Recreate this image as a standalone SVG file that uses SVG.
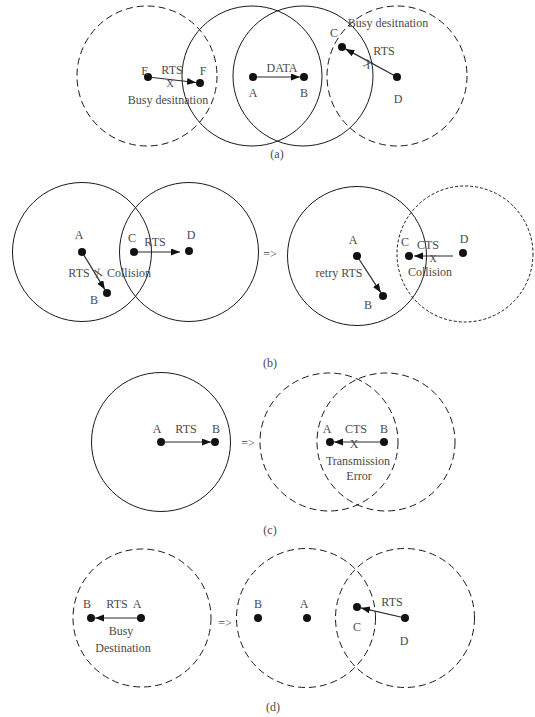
<svg xmlns="http://www.w3.org/2000/svg" width="535" height="717" viewBox="0 0 535 717">
<style>
.bg{fill:#fff}
.rng{fill:none;stroke:#1a1a1a;stroke-width:1}
.dsh{stroke-dasharray:7 4}
.dot{stroke-dasharray:3 2}
.n{fill:#111}
.t{font-family:"Liberation Serif","Times New Roman",serif;font-size:12px;fill:#4a4a4a;text-anchor:middle}
.x{font-size:10px}
.e{stroke:#2a2a2a;stroke-width:1.2;fill:none}
</style>
<defs>
<marker id="ah" markerUnits="userSpaceOnUse" markerWidth="10" markerHeight="8" refX="9" refY="3.5" orient="auto">
<path d="M0,0 L9,3.5 L0,7 z" fill="#111"/>
</marker>
</defs>
<rect class="bg" x="0" y="0" width="535" height="717"/>

<!-- ranges -->
<g id="ranges">
<circle class="rng dsh" cx="147" cy="76" r="70"/>
<circle class="rng" cx="252" cy="76" r="70"/>
<circle class="rng" cx="303" cy="76" r="70"/>
<circle class="rng dsh" cx="397" cy="76" r="70"/>

<circle class="rng" cx="82" cy="252" r="69.5"/>
<circle class="rng" cx="189" cy="252" r="69.5"/>
<circle class="rng" cx="357" cy="256" r="69.5"/>
<circle class="rng dot" cx="465" cy="254" r="68"/>

<circle class="rng" cx="161" cy="442" r="69.5"/>
<circle class="rng dsh" cx="329" cy="442" r="69"/>
<circle class="rng dsh" cx="386" cy="442" r="69"/>

<circle class="rng dsh" cx="142" cy="618" r="69"/>
<circle class="rng dsh" cx="306" cy="618" r="69.5"/>
<circle class="rng dsh" cx="405" cy="618" r="69.5"/>
</g>

<!-- connectors -->
<g id="connectors">
<line class="e" x1="148" y1="77" x2="196" y2="82.5" marker-end="url(#ah)"/>
<line class="e" x1="253" y1="77" x2="300" y2="77" marker-end="url(#ah)"/>
<line class="e" x1="397" y1="77" x2="345.5" y2="48.9" marker-end="url(#ah)"/>

<line class="e" x1="82" y1="252" x2="104.9" y2="289.6" marker-end="url(#ah)"/>
<line class="e" x1="134" y1="252" x2="180" y2="252" marker-end="url(#ah)"/>
<line class="e" x1="357" y1="256" x2="380.8" y2="292.6" marker-end="url(#ah)"/>
<line class="e" x1="453" y1="256" x2="414" y2="256" marker-end="url(#ah)"/>

<line class="e" x1="161" y1="442" x2="211" y2="442" marker-end="url(#ah)"/>
<line class="e" x1="384" y1="442" x2="334" y2="442" marker-end="url(#ah)"/>

<line class="e" x1="141" y1="618" x2="95" y2="618" marker-end="url(#ah)"/>
<line class="e" x1="405" y1="618" x2="360.9" y2="607.9" marker-end="url(#ah)"/>
</g>

<!-- panel (a) -->
<g id="a-E"><circle class="n" cx="148" cy="77" r="4"/><text class="t" x="145" y="75">E</text></g>
<g id="a-F"><circle class="n" cx="200" cy="83" r="4"/><text class="t" x="203" y="75">F</text></g>
<g id="a-A"><circle class="n" cx="253" cy="77" r="4"/><text class="t" x="253" y="97">A</text></g>
<g id="a-B"><circle class="n" cx="304" cy="77" r="4"/><text class="t" x="304" y="97">B</text></g>
<g id="a-C"><circle class="n" cx="342" cy="47" r="4"/><text class="t" x="334" y="37">C</text></g>
<g id="a-D"><circle class="n" cx="397" cy="77" r="4"/><text class="t" x="398" y="103">D</text></g>
<g id="a-labels">
<text class="t" x="172" y="74">RTS</text>
<text class="t x" x="170" y="86.5">X</text>
<text class="t" x="168" y="104">Busy desitnation</text>
<text class="t" x="282" y="72">DATA</text>
<text class="t" x="388" y="27">Busy desitnation</text>
<text class="t" x="384" y="55">RTS</text>
<text class="t" x="368" y="68" transform="rotate(29 368 64)">X</text>
<text class="t" x="277" y="158">(a)</text>
</g>

<!-- panel (b) -->
<g id="b1-A"><circle class="n" cx="82" cy="252" r="4"/><text class="t" x="79" y="239">A</text></g>
<g id="b1-B"><circle class="n" cx="107" cy="293" r="4"/><text class="t" x="94" y="304">B</text></g>
<g id="b1-C"><circle class="n" cx="134" cy="252" r="4"/><text class="t" x="132" y="242">C</text></g>
<g id="b1-D"><circle class="n" cx="189" cy="251" r="4"/><text class="t" x="191" y="239">D</text></g>
<g id="b2-A"><circle class="n" cx="357" cy="256" r="4"/><text class="t" x="353" y="244">A</text></g>
<g id="b2-B"><circle class="n" cx="383" cy="296" r="4"/><text class="t" x="368" y="309">B</text></g>
<g id="b2-C"><circle class="n" cx="409" cy="256" r="4"/><text class="t" x="405" y="246">C</text></g>
<g id="b2-D"><circle class="n" cx="463" cy="253" r="4"/><text class="t" x="464" y="243">D</text></g>
<g id="b-labels">
<text class="t" x="155" y="246">RTS</text>
<text class="t" x="79" y="277">RTS</text>
<text class="t" x="98" y="277" transform="rotate(-20 98 273)">X</text>
<text class="t" x="129" y="277">Collision</text>
<text class="t" x="270" y="258">=&gt;</text>
<text class="t" x="428" y="249">CTS</text>
<text class="t x" x="433" y="262">X</text>
<text class="t" x="430" y="276">Collision</text>
<text class="t" x="339" y="277">retry RTS</text>
<text class="t" x="270" y="367">(b)</text>
</g>

<!-- panel (c) -->
<g id="c1-A"><circle class="n" cx="161" cy="442" r="4"/><text class="t" x="157" y="433">A</text></g>
<g id="c1-B"><circle class="n" cx="215" cy="442" r="4"/><text class="t" x="216" y="433">B</text></g>
<g id="c2-A"><circle class="n" cx="330" cy="442" r="4"/><text class="t" x="327" y="433">A</text></g>
<g id="c2-B"><circle class="n" cx="384" cy="442" r="4"/><text class="t" x="384" y="433">B</text></g>
<g id="c-labels">
<text class="t" x="186" y="433">RTS</text>
<text class="t" x="248" y="447">=&gt;</text>
<text class="t" x="356" y="433">CTS</text>
<text class="t" x="354" y="448">X</text>
<text class="t" x="358" y="465">Transmission</text>
<text class="t" x="359" y="480">Error</text>
<text class="t" x="270" y="534">(c)</text>
</g>

<!-- panel (d) -->
<g id="d1-B"><circle class="n" cx="91" cy="618" r="4"/><text class="t" x="87" y="608">B</text></g>
<g id="d1-A"><circle class="n" cx="141" cy="618" r="4"/><text class="t" x="137" y="608">A</text></g>
<g id="d2-B"><circle class="n" cx="258" cy="618" r="4"/><text class="t" x="258" y="608">B</text></g>
<g id="d2-A"><circle class="n" cx="307" cy="618" r="4"/><text class="t" x="304" y="608">A</text></g>
<g id="d2-C"><circle class="n" cx="357" cy="607" r="4"/><text class="t" x="357" y="631">C</text></g>
<g id="d2-D"><circle class="n" cx="405" cy="618" r="4"/><text class="t" x="404" y="645">D</text></g>
<g id="d-labels">
<text class="t" x="117" y="608">RTS</text>
<text class="t" x="121" y="635">Busy</text>
<text class="t" x="123" y="652">Destination</text>
<text class="t" x="225" y="627">=&gt;</text>
<text class="t" x="392" y="606">RTS</text>
<text class="t" x="273" y="711">(d)</text>
</g>
</svg>
